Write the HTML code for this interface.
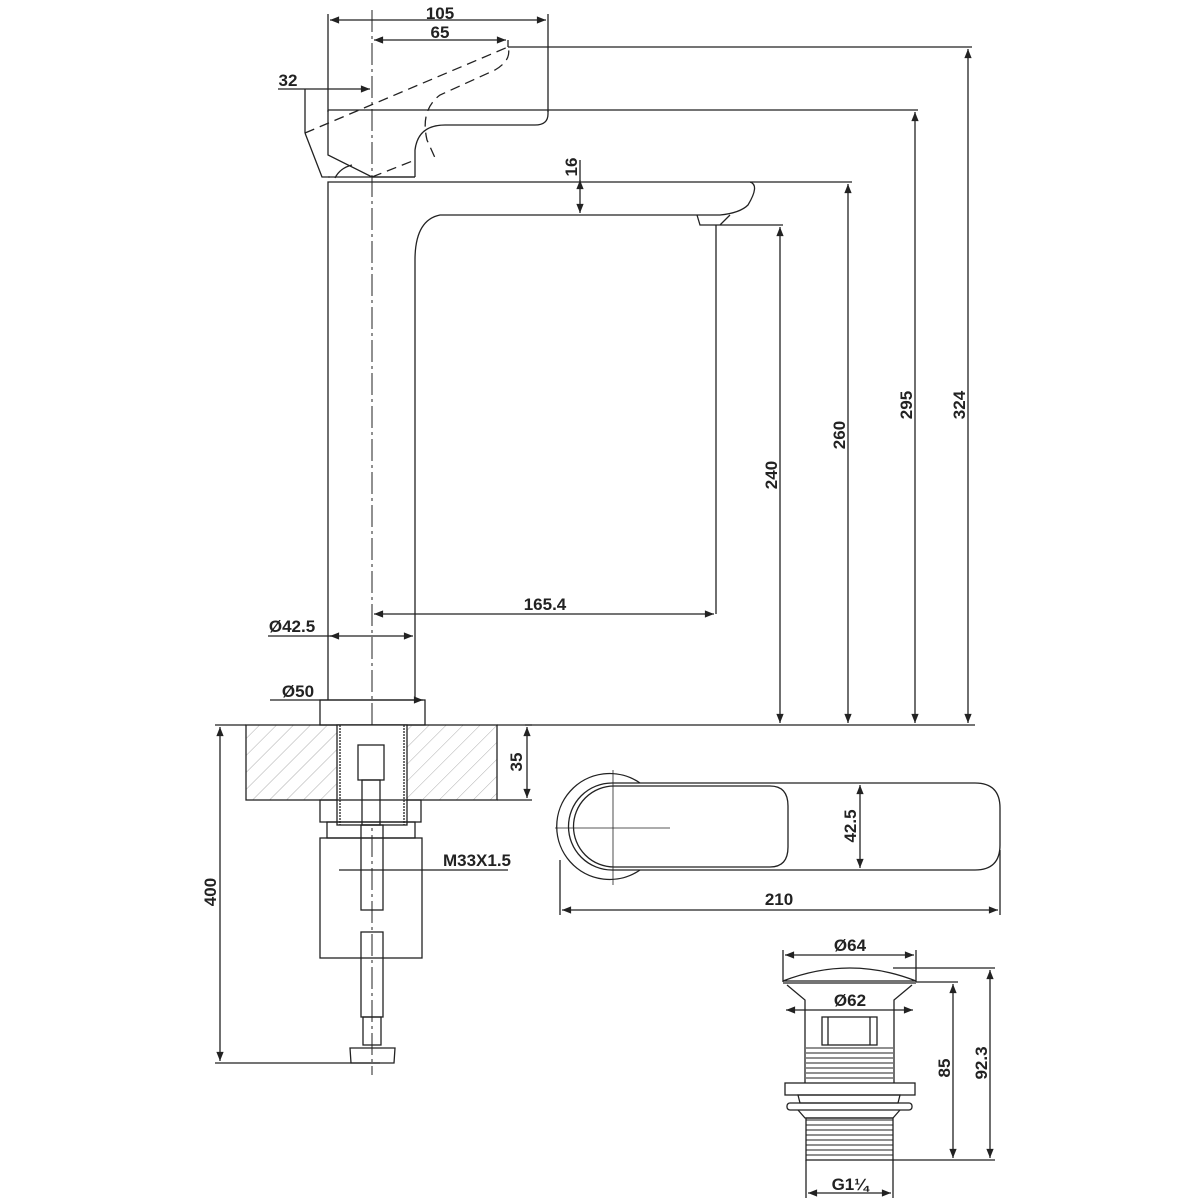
<!DOCTYPE html>
<html><head><meta charset="utf-8"><style>html,body{margin:0;padding:0;background:#fff}svg{display:block}</style></head>
<body>
<svg width="1200" height="1200" viewBox="0 0 1200 1200" xmlns="http://www.w3.org/2000/svg" font-family="'Liberation Sans Narrow','Liberation Sans',sans-serif" font-weight="bold" font-size="17" fill="none" stroke="#222" stroke-width="1.3">
<defs>
<marker id="a" viewBox="0 0 10 10" refX="10" refY="5" markerWidth="9" markerHeight="7" orient="auto-start-reverse"><path d="M0,1 L10,5 L0,9 z" fill="#222" stroke="none"/></marker>
<pattern id="h" width="12" height="12" patternUnits="userSpaceOnUse" patternTransform="rotate(45)"><line x1="0" y1="0" x2="0" y2="12" stroke="#999" stroke-width="0.8"/></pattern>
</defs>

<line x1="372" y1="10" x2="372" y2="1075" stroke-dasharray="22,4,3,4" stroke-width="1"/>

<line x1="328" y1="14" x2="328" y2="112"/><line x1="548" y1="14" x2="548" y2="112"/>
<line x1="330" y1="20" x2="546" y2="20" marker-start="url(#a)" marker-end="url(#a)"/>
<line x1="374" y1="40" x2="506" y2="40" marker-start="url(#a)" marker-end="url(#a)"/>
<line x1="508" y1="40" x2="508" y2="47"/>
<line x1="278" y1="89" x2="370" y2="89" marker-end="url(#a)"/>
<line x1="305" y1="89" x2="305" y2="133"/>
<line x1="508" y1="47" x2="972" y2="47"/>
<g fill="#222" stroke="none" text-anchor="middle">
<text x="440" y="19">105</text><text x="440" y="38">65</text><text x="288" y="86">32</text>
</g>

<line x1="328" y1="110" x2="918" y2="110"/>
<path d="M548,110 L548,114 Q548,125 535,125 L445,125 Q418,125 415,150 L415,177 M328,110 L328,155 L372,177 L415,177"/>
<path d="M305,133 L322,177 L330,177 M335,178 Q340,168 352,165" />
<path d="M305,133 L508,47 Q512,60 495,70 L440,95 Q420,110 427,140 L436,160 M372,177 L415,160" stroke-dasharray="10,6"/>
<line x1="328" y1="177" x2="415" y2="177"/>

<path d="M328,700 L328,182 L750,182 Q760,185 748,205 Q740,213 720,215 L440,215 Q415,220 415,260 L415,700"/>
<path d="M697,215 L700,225 L720,225 L730,215"/>
<line x1="720" y1="225" x2="783" y2="225"/>
<line x1="750" y1="182" x2="852" y2="182"/>
<line x1="580" y1="160" x2="580" y2="213" marker-end="url(#a)"/>
<line x1="580" y1="185" x2="580" y2="180" marker-end="url(#a)"/>
<line x1="716" y1="225" x2="716" y2="614"/>
<line x1="374" y1="614" x2="714" y2="614" marker-start="url(#a)" marker-end="url(#a)"/>
<line x1="268" y1="636" x2="413" y2="636" marker-end="url(#a)"/>
<line x1="330" y1="636" x2="336" y2="636" marker-start="url(#a)"/>
<line x1="270" y1="700" x2="423" y2="700" marker-end="url(#a)"/>
<rect x="320" y="700" width="105" height="25"/>
<line x1="525" y1="725" x2="975" y2="725"/>

<line x1="780" y1="227" x2="780" y2="723" marker-start="url(#a)" marker-end="url(#a)"/>
<line x1="848" y1="184" x2="848" y2="723" marker-start="url(#a)" marker-end="url(#a)"/>
<line x1="915" y1="112" x2="915" y2="723" marker-start="url(#a)" marker-end="url(#a)"/>
<line x1="968" y1="49" x2="968" y2="723" marker-start="url(#a)" marker-end="url(#a)"/>
<g fill="#222" stroke="none" text-anchor="middle">
<text transform="translate(777,475) rotate(-90)">240</text>
<text transform="translate(845,435) rotate(-90)">260</text>
<text transform="translate(912,405) rotate(-90)">295</text>
<text transform="translate(965,405) rotate(-90)">324</text>
<text transform="translate(577,167) rotate(-90)">16</text>
<text x="545" y="610">165.4</text>
<text x="292" y="632">Ø42.5</text>
<text x="298" y="697">Ø50</text>
</g>

<rect x="246" y="725" width="251" height="75" fill="url(#h)"/>
<rect x="337" y="725" width="70" height="100" fill="#fff"/>
<line x1="340" y1="725" x2="340" y2="825" stroke-dasharray="2,1"/><line x1="404" y1="725" x2="404" y2="825" stroke-dasharray="2,1"/>
<rect x="320" y="800" width="101" height="22"/>
<rect x="327" y="822" width="88" height="16"/>
<rect x="320" y="838" width="102" height="120"/>
<rect x="358" y="745" width="26" height="35"/>
<rect x="362" y="780" width="18" height="45"/>
<rect x="361" y="825" width="22" height="85"/>
<rect x="361" y="932" width="22" height="85"/>
<rect x="363" y="1017" width="18" height="28"/>
<path d="M350,1048 L395,1048 L394,1063 L351,1063 Z"/>
<line x1="527" y1="727" x2="527" y2="798" marker-start="url(#a)" marker-end="url(#a)"/>
<line x1="497" y1="800" x2="532" y2="800"/>
<line x1="497" y1="725" x2="532" y2="725"/>
<line x1="339" y1="870" x2="508" y2="870"/>
<line x1="215" y1="725" x2="246" y2="725"/>
<line x1="215" y1="1063" x2="380" y2="1063"/>
<line x1="220" y1="727" x2="220" y2="1061" marker-start="url(#a)" marker-end="url(#a)"/>
<g fill="#222" stroke="none" text-anchor="middle">
<text transform="translate(522,762) rotate(-90)">35</text>
<text transform="translate(216,892) rotate(-90)">400</text>
<text x="477" y="866">M33X1.5</text>
</g>

<!-- top view handle -->
<path d="M640,783 A53,53 0 1,0 640,870"/>
<path d="M612,783 L975,783 Q1000,783 1000,808 L1000,845 Q1000,870 975,870 L612,870 A43.5,43.5 0 0,1 612,783 Z"/>
<path d="M614,786 L770,786 Q788,786 788,806 L788,847 Q788,867 770,867 L614,867 A40.5,40.5 0 0,1 614,786 Z"/>
<line x1="555" y1="828" x2="670" y2="828" stroke-width="0.8"/><line x1="613" y1="770" x2="613" y2="885" stroke-width="0.8"/>
<line x1="860" y1="785" x2="860" y2="868" marker-start="url(#a)" marker-end="url(#a)"/>
<line x1="560" y1="860" x2="560" y2="915"/><line x1="1000" y1="850" x2="1000" y2="915"/>
<line x1="562" y1="910" x2="998" y2="910" marker-start="url(#a)" marker-end="url(#a)"/>
<g fill="#222" stroke="none" text-anchor="middle">
<text transform="translate(856,826) rotate(-90)">42.5</text>
<text x="779" y="905">210</text>
</g>

<line x1="783" y1="950" x2="783" y2="982"/><line x1="916" y1="950" x2="916" y2="982"/>
<line x1="785" y1="955" x2="914" y2="955" marker-start="url(#a)" marker-end="url(#a)"/>
<path d="M783,981 Q850,955 916,981 Z"/>
<line x1="783" y1="983" x2="916" y2="983"/>
<path d="M787,985 L805,1000 L805,1083 M912,985 L894,1000 L894,1083"/>
<line x1="786" y1="1010" x2="913" y2="1010" marker-start="url(#a)" marker-end="url(#a)"/>
<rect x="822" y="1017" width="55" height="28"/>
<line x1="828" y1="1017" x2="828" y2="1045"/><line x1="870" y1="1017" x2="870" y2="1045"/>
<g stroke-width="1">
<line x1="806" y1="1048" x2="893" y2="1048"/><line x1="806" y1="1053" x2="893" y2="1053"/><line x1="806" y1="1058" x2="893" y2="1058"/><line x1="806" y1="1063" x2="893" y2="1063"/><line x1="806" y1="1068" x2="893" y2="1068"/><line x1="806" y1="1073" x2="893" y2="1073"/><line x1="806" y1="1078" x2="893" y2="1078"/>
<line x1="806" y1="1120" x2="893" y2="1120"/><line x1="806" y1="1125" x2="893" y2="1125"/><line x1="806" y1="1130" x2="893" y2="1130"/><line x1="806" y1="1135" x2="893" y2="1135"/><line x1="806" y1="1140" x2="893" y2="1140"/><line x1="806" y1="1145" x2="893" y2="1145"/><line x1="806" y1="1150" x2="893" y2="1150"/><line x1="806" y1="1155" x2="893" y2="1155"/>
</g>
<rect x="785" y="1083" width="130" height="12"/>
<path d="M798,1095 L900,1095 L898,1103 L800,1103 Z"/>
<rect x="787" y="1103" width="125" height="7" rx="3"/>
<path d="M798,1110 L805,1118 L893,1118 L900,1110"/>
<rect x="806" y="1118" width="87" height="42"/>
<line x1="893" y1="968" x2="995" y2="968"/><line x1="916" y1="982" x2="958" y2="982"/><line x1="893" y1="1160" x2="995" y2="1160"/>
<line x1="953" y1="984" x2="953" y2="1158" marker-start="url(#a)" marker-end="url(#a)"/>
<line x1="990" y1="970" x2="990" y2="1158" marker-start="url(#a)" marker-end="url(#a)"/>
<line x1="806" y1="1160" x2="806" y2="1198"/><line x1="893" y1="1160" x2="893" y2="1198"/>
<line x1="808" y1="1193" x2="891" y2="1193" marker-start="url(#a)" marker-end="url(#a)"/>
<g fill="#222" stroke="none" text-anchor="middle">
<text x="850" y="951">Ø64</text>
<text x="850" y="1006">Ø62</text>
<text transform="translate(950,1068) rotate(-90)">85</text>
<text transform="translate(987,1063) rotate(-90)">92.3</text>
<text x="850" y="1190">G1¼</text>
</g>
</svg>
</body></html>
